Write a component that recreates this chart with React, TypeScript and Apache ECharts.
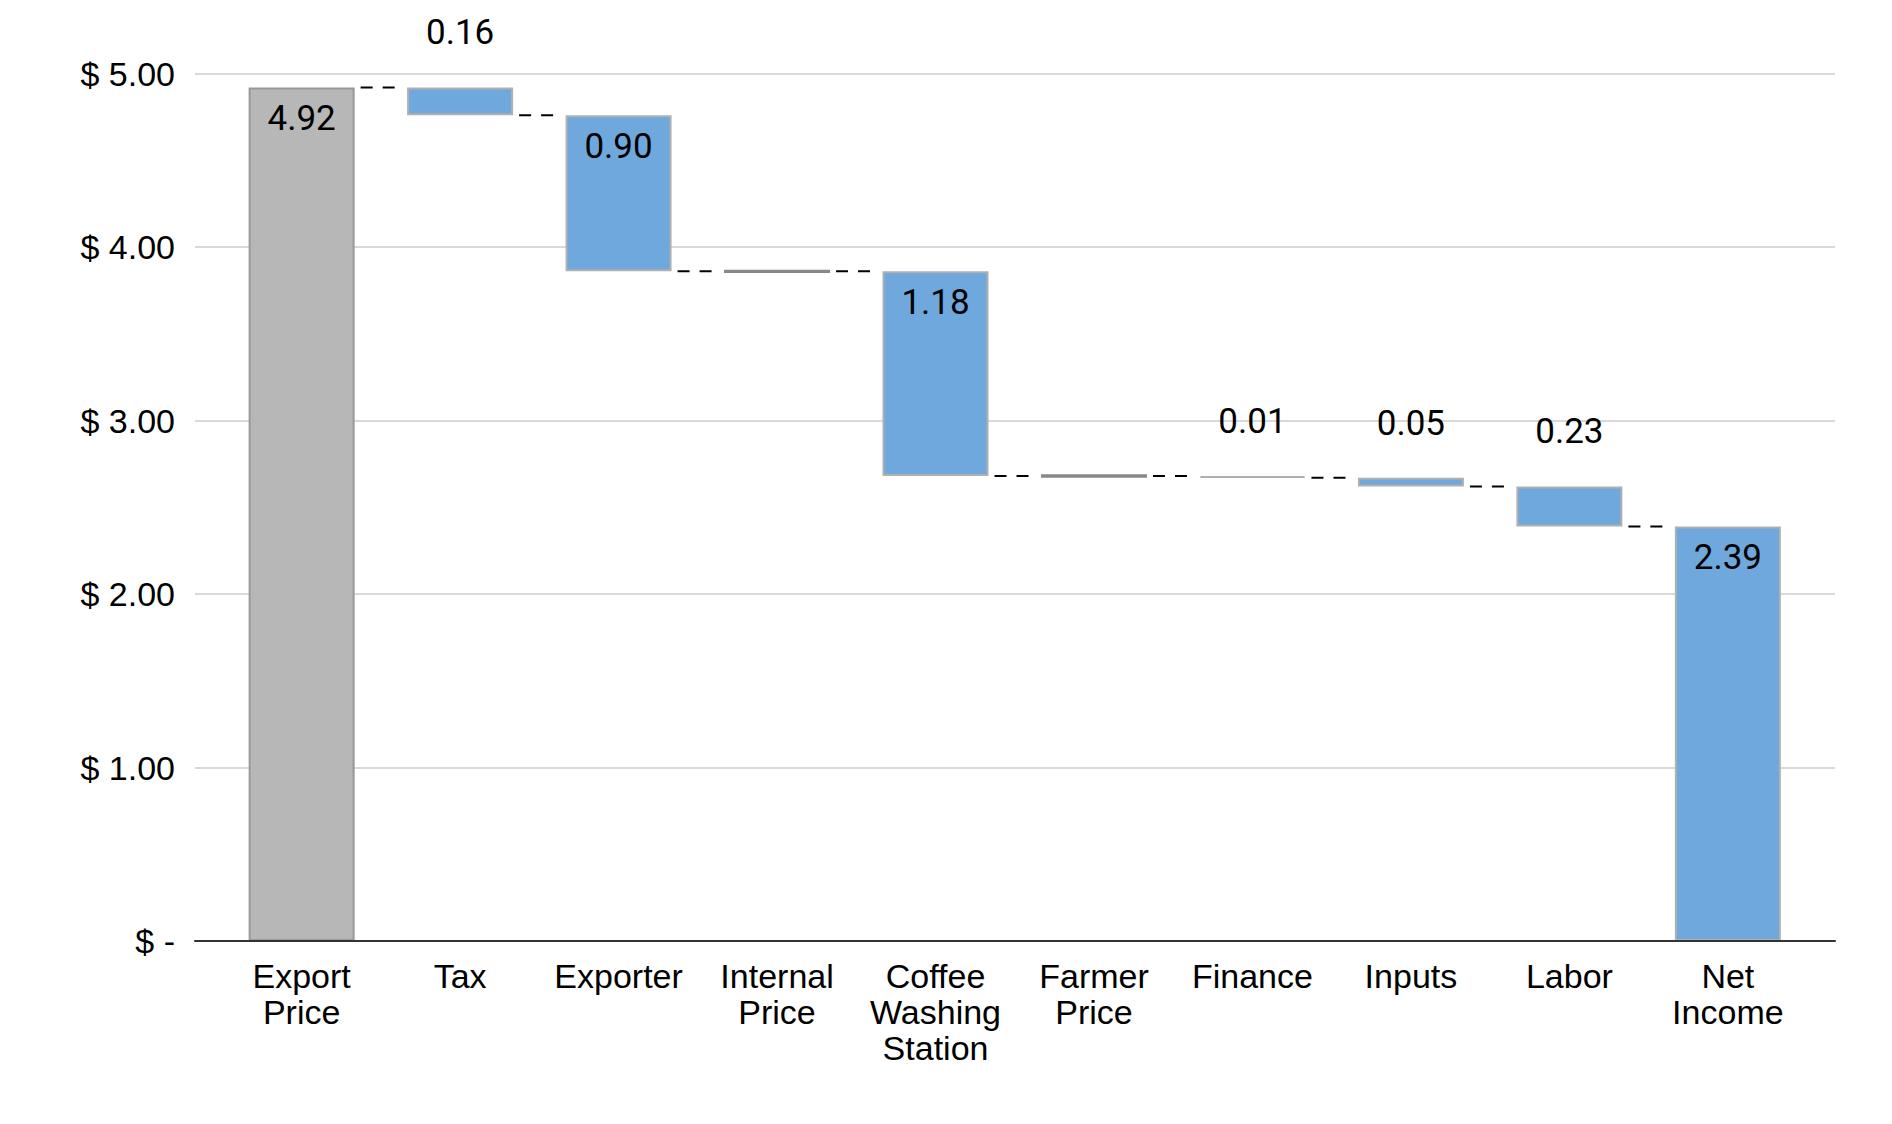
import React, { useEffect, useRef } from 'react';
import * as echarts from 'echarts';

const categories = [
  'Export\nPrice',
  'Tax',
  'Exporter',
  'Internal\nPrice',
  'Coffee\nWashing\nStation',
  'Farmer\nPrice',
  'Finance',
  'Inputs',
  'Labor',
  'Net\nIncome',
];
const values = [4.92, 0.16, 0.9, 3.86, 1.18, 2.68, 0.01, 0.05, 0.23, 2.39];
// start = grey total, step = decrease, subtotal = running total marker, end = final total
const kinds = ['start', 'step', 'step', 'subtotal', 'step', 'subtotal', 'step', 'step', 'step', 'end'];
const yTicks = [0, 1, 2, 3, 4, 5];

const BAR_W = 106;
const BLUE = '#6fa8dc';
const GREY = '#b7b7b7';

export default function App() {
  const ref = useRef<HTMLDivElement>(null);

  useEffect(() => {
    const chart = echarts.init(ref.current as HTMLDivElement, null, { renderer: 'svg' });

    const base: number[] = [];
    const shown: any[] = [];
    const levels: number[] = [];
    let level = 0;
    values.forEach((v, i) => {
      const k = kinds[i];
      if (k === 'start' || k === 'end') {
        level = v;
        base.push(0);
        shown.push({
          value: v,
          itemStyle: {
            color: k === 'start' ? GREY : BLUE,
            borderColor: k === 'start' ? '#999999' : '#b0b0b0',
            borderWidth: 2,
          },
          label: { show: true, position: 'insideTop', distance: 14 },
        });
      } else if (k === 'subtotal') {
        level = v;
        base.push(v - 0.01);
        shown.push({
          value: 0.02,
          itemStyle: { color: '#888888', borderWidth: 0 },
          label: { show: false },
        });
      } else {
        level = Math.round((level - v) * 1000) / 1000;
        base.push(level);
        const big = v >= 0.5;
        shown.push({
          value: v,
          itemStyle: { color: BLUE, borderColor: '#b0b0b0', borderWidth: 2 },
          label: big
            ? { show: true, position: 'insideTop', distance: 14 }
            : { show: true, position: 'top', distance: 37 },
        });
      }
      levels.push(level);
    });

    const connectors = levels.slice(0, levels.length - 1).map((l, i) => [i, l]);

    chart.setOption({
      animation: false,
      backgroundColor: '#ffffff',
      grid: [
        { left: 195, right: 57, top: 73.6, bottom: 183 },
        { left: 222.4, right: 84.9, top: 73.6, bottom: 183 },
      ],
      xAxis: [
        {
          type: 'value',
          gridIndex: 0,
          min: 0,
          max: 1,
          axisLabel: { show: false },
          axisTick: { show: false },
          splitLine: { show: false },
          axisLine: { show: true, lineStyle: { color: '#333333', width: 2 } },
          z: 5,
        },
        {
          type: 'category',
          gridIndex: 1,
          data: categories,
          axisLine: { show: false },
          axisTick: { show: false },
          splitLine: { show: false },
          axisLabel: {
            interval: 0,
            margin: 17,
            fontSize: 34,
            lineHeight: 36,
            color: '#000000',
            fontFamily: '"Liberation Sans", Arial, sans-serif',
          },
        },
      ],
      yAxis: [
        {
          type: 'value',
          gridIndex: 0,
          min: 0,
          max: 5,
          interval: 1,
          data: yTicks,
          axisLine: { show: false },
          axisTick: { show: false },
          axisLabel: {
            margin: 20,
            fontSize: 34,
            color: '#000000',
            fontFamily: '"Liberation Sans", Arial, sans-serif',
            formatter: (v: number) => (v === 0 ? '$ -' : '$ ' + v.toFixed(2)),
          },
          splitLine: { lineStyle: { color: '#cccccc', width: 1.5 } },
        },
        {
          type: 'value',
          gridIndex: 1,
          min: 0,
          max: 5,
          show: false,
          splitLine: { show: false },
        },
      ],
      series: [
        {
          type: 'bar',
          xAxisIndex: 1,
          yAxisIndex: 1,
          stack: 'w',
          barWidth: BAR_W,
          silent: true,
          itemStyle: { color: 'rgba(0,0,0,0)', borderWidth: 0 },
          data: base,
          z: 2,
        },
        {
          type: 'bar',
          xAxisIndex: 1,
          yAxisIndex: 1,
          stack: 'w',
          barWidth: BAR_W,
          data: shown,
          label: {
            fontSize: 35,
            color: '#000000',
            fontFamily: 'Roboto, sans-serif',
            formatter: (p: any) => values[p.dataIndex].toFixed(2),
          },
          z: 3,
        },
        {
          type: 'custom',
          xAxisIndex: 1,
          yAxisIndex: 1,
          data: connectors,
          z: 4,
          renderItem: (params: any, api: any) => {
            const i = api.value(0);
            const v = api.value(1);
            const a = api.coord([i, v]);
            const b = api.coord([i + 1, v]);
            return {
              type: 'line',
              shape: { x1: a[0] + BAR_W / 2 + 6, y1: a[1], x2: b[0] - BAR_W / 2 - 4, y2: a[1] },
              style: { stroke: '#000000', lineWidth: 2, lineDash: [12, 10] },
            };
          },
        },
      ],
    });

    return () => chart.dispose();
  }, []);

  return (
    <div
      ref={ref}
      style={{ position: 'fixed', left: 0, top: 0, width: 1892, height: 1124, background: '#fff' }}
    />
  );
}
